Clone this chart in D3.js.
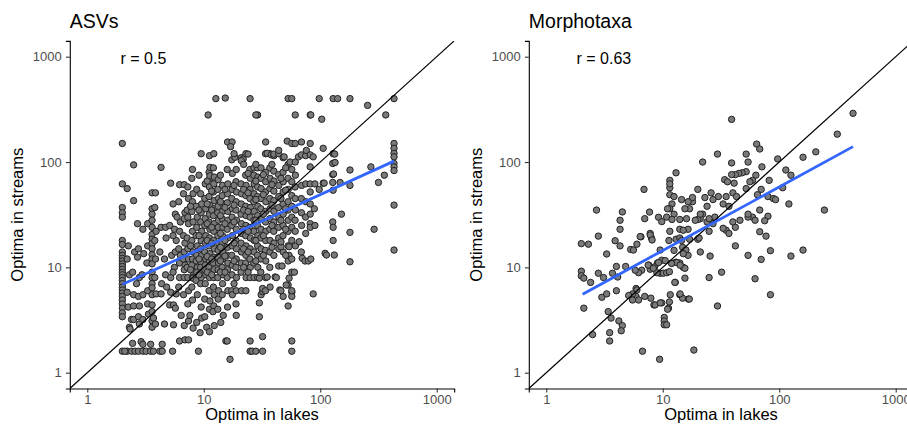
<!DOCTYPE html>
<html>
<head>
<meta charset="utf-8">
<script src="https://cdn.jsdelivr.net/npm/d3@7"></script>
<style>
  body { margin: 0; background: #fff; }
  svg { font-family: "Liberation Sans", Arial, Helvetica, sans-serif; }
</style>
</head>
<body>
<svg id="chart" width="907" height="433"></svg>
<script>
// values: [optimum in lakes, optimum in streams]
const tickValues = [1, 10, 100, 1000];
const panelTitles = ['ASVs', 'Morphotaxa'];
const rLabels = ['r = 0.5', 'r = 0.63'];
const axisLimits = [1, 1000];

const asvPoints = [
  [2,150],[2,62],[2,37],[2,33],[2,30],[2,18],[2,16.5],[2,14],[2,13],[2,12.2],[2,11.5],[2,10.8],[2,10.2],[2,9.6],[2,9],[2,8.5],[2,8],[2,7.5],[2,7],[2,6.5],[2,6.1],[2,5.7],[2,5.3],[2,4.9],[2,4.5],[2,4.1],[2,3.7],[2,3.4],[2,1.6],
  [2.2,56],[2.25,16],[2.2,12],[2.3,8.5],[2.2,5.8],[2.25,4.2],[2.3,2.7],[2.2,1.6],[2.1,1.6],[2.4,1.6],[2.33,2.6],[2.4,3.2],[2.45,1.9],
  [2.5,94],[2.5,43],[2.55,14],[2.45,9],[2.5,5.5],[2.5,4.3],[2.5,3.2],[2.57,1.6],
  [2.7,26],[2.75,15],[2.7,12.5],[2.8,8],[2.65,7],[2.75,5.3],[2.8,4.3],[2.75,3.4],[2.8,2.9],[2.9,1.97],[2.75,1.6],
  [3.0,23],[3.05,13.5],[2.95,8.5],[3.0,5.5],[3.0,3.2],[3.0,1.86],[3.0,1.6],
  [3.3,26],[3.3,16],[3.25,11],[3.3,6],[3.3,4.5],[3.35,3.6],[3.2,1.6],
  [3.6,51],[3.6,36],[3.6,32],[3.6,28],[3.6,24],[3.6,20.5],[3.6,18.5],[3.6,16.8],[3.6,15],[3.6,13.2],[3.6,12],[3.6,10.8],[3.6,9],[3.6,8],[3.6,7],[3.6,6.4],[3.6,5.5],[3.6,4.4],[3.6,3.8],[3.6,3.1],[3.6,2.7],[3.5,1.86],[3.5,1.6],[3.7,1.6],[3.7,3.3],
  [3.85,51],[3.8,37],[3.9,22],[3.8,18],[3.85,12],[3.8,8],[3.9,5.6],[3.85,2.9],
  [4.3,89],[4.3,24],[4.2,14],[4.35,7],[4.3,5.6],[4.2,1.6],[4.4,1.6],[4.4,1.86],[4.6,2.9],
  [4.7,24],[4.75,19],[4.6,12],[4.7,8.5],[4.8,6.5],[5.1,4.4],
  [5.2,63],[5.1,25],[5.3,13],[5.2,8],[5.2,5.8],[5.4,1.6],[5.5,2.85],[5.5,4.4],
  [5.7,32],[5.6,23],[5.8,18],[5.7,14],[5.6,10],[5.8,5.6],[5.7,4.1],[5.9,30],
  [6.2,61],[6.1,42],[6.3,27],[6.2,22],[6.1,15],[6.3,13],[6.2,11],[6.2,8],[6.1,6.5],[6.4,3.5],[6.2,2.0],
  [6.8,61],[6.7,50],[6.9,33],[6.8,29],[6.7,20],[6.9,17],[6.8,14],[6.7,12],[6.9,10.5],[6.8,9.5],[6.8,8],[6.7,5.5],[6.9,2.05],[6.8,2.8],
  [7.3,58],[7.4,45],[7.2,35],[7.3,30],[7.4,26],[7.2,19],[7.3,15],[7.4,12],[7.2,10],[7.3,8],[7.4,6],[7.3,4.5],[7.4,3.1],[7.4,2.05],[7.6,3.5],
  [8.0,85],[7.9,70],[8.1,50],[8.0,42],[7.9,34],[8.1,27],[8.0,22],[7.9,18],[8.1,14],[8.0,12],[7.9,10.5],[8.1,9],[8.0,8],[7.9,6.5],[8.0,4.9],[8.1,2.65],[8.1,7.9],
  [8.7,55],[8.6,38],[8.8,30],[8.7,24],[8.6,20],[8.8,16],[8.7,13],[8.6,11.5],[8.8,10],[8.7,9],[8.6,7.5],[8.8,5.5],[8.7,3],[9.3,2.4],[9,1.6],
  [9.5,120],[9.4,50],[9.6,40],[9.5,33],[9.4,27],[9.6,22],[9.5,18],[9.4,15],[9.6,13],[9.5,11],[9.4,10],[9.6,9],[9.5,8],[9.4,7],[9.5,4.2],[9.6,3.3],
  [10.3,62],[10.2,45],[10.4,36],[10.3,29],[10.2,25],[10.4,20],[10.3,17],[10.2,14],[10.4,12],[10.3,10.5],[10.2,9.5],[10.4,8.5],[10.3,7],[10.2,5],[10.6,2.7],[10.2,3.4],
  [11.2,115],[11.1,80],[11.3,70],[11.2,58],[11.1,47],[11.3,39],[11.2,32],[11.1,27],[11.3,23],[11.2,19],[11.1,16],[11.3,13.5],[11.2,11.5],[11.1,10],[11.3,9],[11.2,8],[11.1,6],[11.3,4.8],[11.2,4],[11.2,2.45],[11.3,89],[11.3,74],
  [12.2,120],[12.1,88],[12.3,72],[12.2,62],[12.1,52],[12.3,43],[12.2,36],[12.1,31],[12.3,26],[12.2,22],[12.1,18],[12.3,15],[12.2,12.5],[12.1,11],[12.3,9.5],[12.2,8],[12.1,6.5],[12.3,5.5],[12.2,4.3],[12,3.8],[12.3,2.8],
  [13.3,68],[13.2,55],[13.4,45],[13.3,38],[13.2,33],[13.4,28],[13.3,24],[13.2,20],[13.4,17],[13.3,14.5],[13.2,12.5],[13.4,11],[13.3,9.5],[13.2,8],[13.4,6],[13.3,5],[13.2,4],[14,3.0],
  [14.5,60],[14.4,48],[14.6,40],[14.5,34],[14.4,29],[14.6,24],[14.5,20],[14.4,17],[14.6,14],[14.5,12],[14.4,10],[14.6,8.5],[14.5,7],[14.4,5.5],[14.7,3.5],
  [16,155],[15.9,85],[16.1,62],[16,50],[15.9,41],[16.1,34],[16,28],[15.9,23],[16.1,19],[16,15.5],[15.9,13],[16.1,11],[16,9.5],[15.9,8],[16.1,6],[16,4.2],[15.5,2.0],[15.9,2.0],
  [17.5,155],[17.4,105],[17.6,78],[17.5,55],[17.4,45],[17.6,36],[17.5,30],[17.4,25],[17.6,20],[17.5,16],[17.4,13],[17.6,10.5],[17.5,8.5],[17.4,6],[17.6,5.5],[16.8,1.34],[17,140],
  [19,85],[18.9,65],[19.1,52],[19,42],[18.9,35],[19.1,28],[19,23],[18.9,18],[19.1,15],[19,12],[18.9,10],[19.1,8],[19,6],[18.9,4.5],[19,3.5],[18.5,111],
  [21,110],[20.9,62],[21.1,50],[21,40],[20.9,32],[21.1,26],[21,21],[20.9,17],[21.1,14],[21,11],[20.9,9],[21.1,6],[21.8,107],[21,103],
  [23,120],[22.9,75],[23.1,60],[23,48],[22.9,38],[23.1,31],[23,25],[22.9,20],[23.1,16],[23,13],[22.9,11],[23.1,8],[23,6],[24,119],
  [25,400],[24.9,85],[25.1,70],[25,55],[24.9,45],[25.1,37],[25,30],[24.9,24],[25.1,19],[25,15],[24.9,12],[25.1,10],[25,8],[25,2.0],[25,1.6],
  [27,88],[26.9,75],[27.1,62],[27,50],[26.9,42],[27.1,34],[27,28],[26.9,22],[27.1,18],[27,14],[26.9,11],[27.1,8],[26,1.6],[28,1.6],
  [29,280],[28.9,88],[29.1,72],[29,58],[28.9,47],[29.1,38],[29,31],[28.9,25],[29.1,20],[29,16],[28.9,13],[29.1,10],[29,8],[30,7.9],[30,4.6],[30,3.4],
  [31,88],[30.9,70],[31.1,56],[31,45],[30.9,36],[31.1,29],[31,23],[30.9,19],[31.1,15],[31,12],[30.9,9],[31.1,5.5],[32,2.2],[32,1.6],[32,5.9],[32,6.3],
  [34,155],[33.9,120],[34.1,80],[34,65],[33.9,52],[34.1,42],[34,34],[33.9,27],[34.1,22],[34,18],[33.9,14.5],[34.1,11.5],[34,8],[33.9,6],[35,8.1],
  [37,120],[36.9,88],[37.1,70],[37,56],[36.9,45],[37.1,36],[37,29],[36.9,23],[37.1,18],[37,14],[36.9,10],[37.1,6.5],[35,121],[38,117],
  [40,115],[39.9,82],[40.1,66],[40,53],[39.9,43],[40.1,34],[40,27],[39.9,22],[40.1,17],[40,13],[41,8.1],[40,119],
  [44,120],[43.9,76],[44.1,60],[44,47],[43.9,37],[44.1,30],[44,24],[43.9,19],[44.1,15],[44,10.3],[45,6.1],[44,129],[42,8],
  [48,110],[47.9,80],[48.1,65],[48,52],[47.9,40],[48.1,32],[48,25],[47.9,20],[48.1,14],[47,10.3],[48,5.3],[49,112],[46,15.7],[46,6],
  [53,400],[52,158],[53,95],[52.9,70],[53.1,55],[53,42],[52.9,35],[53.1,28],[53,22],[52.9,16],[53.1,11.5],[53,6.8],[53,4.3],[54,13],[54,15.7],[54,7.9],[51,6.8],[55,100],
  [57,400],[57,150],[57,85],[57,65],[57,48],[57,38],[57,30],[57,24],[57,18],[57,12],[57,9],[57,5.8],[57,5.3],[57,2.0],[57,1.6],[57,6.0],
  [61,280],[61,100],[61.2,75],[60.8,58],[61,45],[61.2,35],[60.8,28],[61,22],[61.2,16],[60,9],[61,150],
  [66,17.5],[65,112],[69,155],[69,117],[69.2,60],[68.8,45],[69,33],[69.2,25],[68.8,14],[70,12.2],
  [75,115],[75,62],[75.2,42],[74.8,30],[75,21],[74,11.5],[76,129],[79,11.5],
  [82,280],[82,150],[82,117],[82,90],[82,62],[82,52],[82,40],[82,32],[82,26],[82,24],[83,12],[87,112],
  [87,5.6],[90,62],[89,36],[90,25],
  [98,400],[98,55],[106,135],[106,63],[103,255],[110,13.6],[113,13.1],
  [12.7,400],[15.3,405],[129,400],[141,400],[180,400],[430,400],
  [10.9,280],[28,280],[83,280],[255,345],[365,280],
  [129,120],[128,97],[128,76],[128,64],[129,54],[128,27],[129,24],[129,18],[132,13.1],[133,119],[134,99],[130,77],[108,63],
  [148,64],[152,32],[180,84],[180,60],[180,21.5],[180,11.3],[272,90],[290,23],[316,64],[355,75],
  [430,150],[430,135],[430,121],[430,112],[430,97],[430,90],[430,83],[430,39],[430,14.6]
];

// extra points in the busiest part of the ASV cloud, read as columns: [lake optimum, stream optima]
const asvDenseColumns = [
  [5.45, [40, 20, 9]],
  [7.7, [38, 16, 9.5]],
  [9.1, [75, 35, 20, 12, 8.5]],
  [10.7, [66, 40, 26, 18, 12.7, 9]],
  [11.7, [53, 35, 24, 17, 12, 8.5]],
  [13.9, [75, 42, 31, 21, 15.5, 11.5, 9]],
  [15.2, [55, 37, 26, 18, 12.8, 9]],
  [18.2, [120, 60, 39, 27, 17, 11.5, 7]],
  [22, [95, 55, 35, 23, 15, 10]],
  [24, [78, 51, 34, 22, 14, 9]],
  [28, [95, 66, 44, 28, 18, 11.5]],
  [32.5, [76, 49, 32, 20, 13]],
  [38.5, [95, 61, 39, 25, 15.5]],
  [46, [70, 45, 28, 17.5]],
  [50.5, [88, 54, 36, 23, 13]]
];

const morphoPoints = [
  [39,254],[430,290],[315,184],[206,125],[160,111],[97,107],[64,148],[68,133],[52,119],[54,100],[71,90],
  [29.5,119],[22,100],[39,98],[52,81],[48,79],[45,78],[42,76],[114,84],[126,75],[63,75],[59,67],
  [34,68],[36,65],[39,76],[41,63],[82,67],[56,65],[52,56],[107,57],[121,40],[244,35],
  [160,14.6],[126,12.8],[84,14.4],[84,5.5],[62,7.8],[70,11.9],[68,21.8],[77,19.8],[80,30.6],[75,27.7],
  [68,35],[59,30],[62,28],[54,30],[54,32],[54,13],[80,47],[89,45],[93,44],[65,49],[70,55],
  [40,51],[43,47],[35,47],[30,47],[26,51],[27,44],[33,40],[37,38],[46,28],[40,27],[42,24],
  [35,22.5],[33,23.5],[37,21],[42,16],[26,28],[28,30],[27,26],[25,22],[24,27],[25,29],
  [22,32],[21,29],[20,28.5],[24,38],[23,46],[20,55],[18,42],[18,46],[16.5,42],[17,36],[15.5,36],
  [14.5,44],[16,29],[16.5,23],[17,18.5],[14,23],[15,22.5],[14,28.5],[12.5,32],[12,40],[11.5,49],
  [11.5,57],[11.5,67],[13,79],[11.5,62],[12.5,47],[11.5,36],[11,36],[10.8,30],[12,28.5],[11.5,22],
  [11.3,18],[13,18.5],[14,19],[14.5,18],[12.5,14.5],[12,11],[13,11.2],[14,11],[15,10],[15.5,9.8],
  [14.8,15.5],[15.8,14.6],[16.5,13],[15,13.5],[15.5,7.9],[12.8,7.2],[9.5,14.6],[9.8,11.7],[10.5,11.6],
  [9,11],[9.5,8.8],[10.1,8.8],[10.8,8.9],[11.4,9.1],[8.9,8.9],[7.8,9.6],[8.5,10.1],[7.6,10.5],
  [6.6,9.4],[6.2,8.9],[5.8,9.4],[4.8,10.2],[4.0,10.2],[4.1,8.1],[3.7,8.8],[2.8,8.8],[3.1,8.0],
  [2.0,9.2],[2.0,8.3],[2.1,7.9],[2.4,7.2],[2.0,16.8],[2.3,16.6],[2.8,19.8],[2.7,35],[3.3,13.4],
  [3.9,17.9],[4.3,16],[4.3,23],[4.3,28],[4.5,33.6],[5.3,14.8],[5.6,14.6],[6,16.6],[6.5,19.5],
  [6.9,55],[7,29],[7.7,33.5],[7.8,21],[8,19],[20,18.5],[21,14],[20.5,19],[21,32],[19,28],
  [25.5,12.8],[25,8],[32,9],[29.5,4.3],[18.5,1.64],[9.4,1.34],[6.7,1.6],
  [10.3,3.35],[10.3,3.1],[10.3,2.85],[10.8,2.85],[11.2,4.1],[11.4,4.7],[9.8,4.6],[8.4,4.4],
  [7.9,5.1],[7.0,5.3],[5.9,5.3],[5.5,5.6],[5.1,5.4],[5.9,6.3],[5.5,4.9],[11.6,5.5],[14,5.5],
  [14.8,5.1],[16.6,5.0],[3.4,3.8],[3.6,3.3],[3.5,2.4],[3.5,2.0],[4.2,3.1],[4.5,2.8],[4.4,2.5],
  [2.5,2.3],[2.1,4.1],[3.0,5.2],[3.3,5.6],[4.0,6.0],[9.2,29.9],[9.8,27.2],[6.4,19.6],[7.8,20.3],
  [8.1,18.2],[7.5,10.5],[8.3,9.8],[9.2,11.1],[13.2,11.1],[14.1,10.5],[11.9,10.9],[12.7,7.2],
  [6.0,6.1],[6.2,4.9],[8.6,4.4],[9.5,4.6],[11.0,4.0],[14.1,5.6],[16.9,5.0]
];

// fitted lines, end points
const asvFit = [[2.01, 6.9], [430, 102]];
const morphoFit = [[2.05, 5.55], [430, 140]];

const asvAll = asvPoints.concat(
  asvDenseColumns.flatMap(([lake, streams]) => streams.map(s => [lake, s]))
);

const panels = [
  { title: panelTitles[0], r: rLabels[0], points: asvAll, fit: asvFit, left: 69.8, right: 454.2, rx: 120.5 },
  { title: panelTitles[1], r: rLabels[1], points: morphoPoints, fit: morphoFit, left: 528.8, right: 913.2, rx: 576.5 }
];

const plotTop = 40.9;
const plotBottom = 388.5;
// ggplot style 5% padding on a log axis
const pad = 0.05 * (Math.log10(axisLimits[1]) - Math.log10(axisLimits[0]));
const domain = [axisLimits[0] / 10 ** pad, axisLimits[1] * 10 ** pad];

const svg = d3.select('#chart');

panels.forEach((p, i) => {
  const x = d3.scaleLog().domain(domain).range([p.left, p.right]);
  const y = d3.scaleLog().domain(domain).range([plotBottom, plotTop]);

  svg.append('clipPath').attr('id', 'clip' + i)
    .append('rect')
    .attr('x', p.left).attr('y', plotTop)
    .attr('width', p.right - p.left).attr('height', plotBottom - plotTop);

  const g = svg.append('g').attr('clip-path', `url(#clip${i})`);

  g.selectAll('circle').data(p.points).enter().append('circle')
    .attr('cx', d => x(d[0]))
    .attr('cy', d => y(d[1]))
    .attr('r', 3.2)
    .attr('fill', '#7a7a7a')
    .attr('stroke', '#222')
    .attr('stroke-width', 1);

  // 1:1 line
  g.append('line')
    .attr('x1', x(domain[0])).attr('y1', y(domain[0]))
    .attr('x2', x(domain[1])).attr('y2', y(domain[1]))
    .attr('stroke', '#000')
    .attr('stroke-width', 1.2);

  g.append('path')
    .datum(p.fit)
    .attr('d', d3.line().x(d => x(d[0])).y(d => y(d[1])))
    .attr('fill', 'none')
    .attr('stroke', '#3366FF')
    .attr('stroke-width', 2.8);

  const xAxis = svg.append('g')
    .attr('transform', `translate(0,${plotBottom})`)
    .call(d3.axisBottom(x).tickValues(tickValues).tickFormat(d3.format('d'))
      .tickSizeOuter(0).tickSize(3.9).tickPadding(2.6));

  const yAxis = svg.append('g')
    .attr('transform', `translate(${p.left},0)`)
    .call(d3.axisLeft(y).tickValues(tickValues).tickFormat(d3.format('d'))
      .tickSizeOuter(0).tickSize(3.9).tickPadding(4.2));

  [xAxis, yAxis].forEach(a => {
    a.select('.domain').attr('stroke', '#000').attr('stroke-width', 1.1);
    a.selectAll('.tick line').attr('stroke', '#333').attr('stroke-width', 1.1);
    a.selectAll('.tick text').attr('fill', '#4d4d4d')
      .style('font-size', '13px').style('font-family', '"Liberation Sans", Arial, sans-serif');
  });

  svg.append('text')
    .attr('x', p.left).attr('y', 28)
    .style('font-size', '19.5px')
    .text(p.title);

  svg.append('text')
    .attr('x', p.rx).attr('y', 64)
    .style('font-size', '16px')
    .text(p.r);

  svg.append('text')
    .attr('x', (p.left + p.right) / 2).attr('y', 420)
    .attr('text-anchor', 'middle')
    .style('font-size', '16.5px')
    .text('Optima in lakes');

  svg.append('text')
    .attr('transform', `translate(${p.left - 46.5},${(plotTop + plotBottom) / 2}) rotate(-90)`)
    .attr('text-anchor', 'middle')
    .style('font-size', '16.5px')
    .text('Optima in streams');
});
</script>
</body>
</html>
